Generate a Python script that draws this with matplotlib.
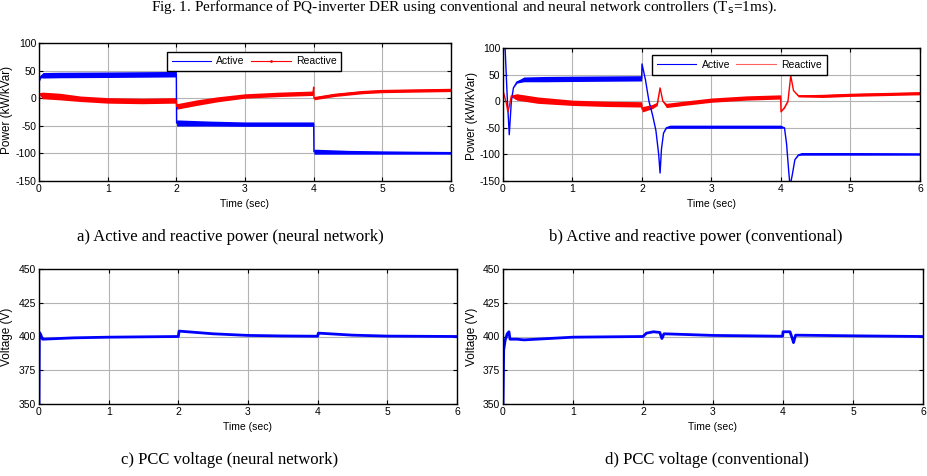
# PQ-inverter DER: active/reactive power and PCC voltage, neural network vs conventional
import numpy as np
import matplotlib
matplotlib.use("Agg")
import matplotlib.pyplot as plt

W, H = 928, 476

# ---- a) power, neural network controller ----
a_act_t = [0, 0.004, 0.01, 0.03, 0.06, 0.3, 1.0, 1.995, 2.0, 2.004, 2.05, 2.5, 3.0, 3.995, 4.0, 4.004, 4.05, 4.5, 5.0, 6.0]
a_act_c = [100, 30, 35, 40, 41.5, 42, 42.5, 43.5, 43.5, -45, -45, -46, -47, -47, -47, -97, -97, -98, -98.5, -99]
a_act_r = [0, 0, 2, 3, 5, 5, 5, 5, 5, 5.5, 5.5, 4.5, 4, 4, 4, 4.5, 4.5, 3.5, 3, 2.5]

a_rea_t = [0, 0.004, 0.01, 0.05, 0.3, 0.6, 1.0, 1.5, 1.995, 2.0, 2.004, 2.3, 2.6, 3.0, 3.5, 3.99, 4.0, 4.004, 4.3, 4.7, 5.0, 5.5, 6.0]
a_rea_c = [-30, -10, 8, 5, 3, -1, -4, -5, -4, -4, -15, -8, -2, 4, 7, 9, 20, 0, 6, 11, 13, 14, 15]
a_rea_r = [0, 0, 2, 6, 6, 5, 5, 5, 5, 5, 5, 5, 4.5, 4, 4, 4, 0, 3, 3, 3, 3, 3, 3]

# ---- b) power, conventional controller ----
b_act_t = [0, 0.03, 0.06, 0.09, 0.12, 0.15, 0.2, 0.3, 0.6, 1.0, 1.995,
           2.0, 2.05, 2.1, 2.15, 2.2, 2.24, 2.26, 2.28, 2.31, 2.35, 2.4, 3.0, 4.0,
           4.05, 4.08, 4.11, 4.13, 4.16, 4.2, 4.25, 4.3, 5.0, 6.0]
b_act_c = [115, 100, 10, -63, 0, 25, 36, 41, 41.5, 42, 43,
           70, 40, 0, -25, -55, -100, -135, -90, -60, -50, -48, -48, -48,
           -50, -80, -130, -160, -140, -110, -101, -99, -99, -99.5]
b_act_r = [0, 0, 0, 0, 0, 0, 2, 4.5, 5, 5, 5,
           0, 0, 0, 0, 0, 0, 0, 0, 0, 1, 3, 3, 3,
           0, 0, 0, 0, 0, 0, 1, 2.5, 2.5, 2]

b_rea_t = [0, 0.02, 0.05, 0.07, 0.09, 0.12, 0.2, 0.5, 1.0, 1.5, 1.995,
           2.0, 2.01, 2.15, 2.22, 2.26, 2.3, 2.35, 2.6, 3.0, 3.5, 3.995,
           4.0, 4.05, 4.1, 4.14, 4.18, 4.25, 4.6, 5.0, 6.0]
b_rea_c = [20, 10, -5, -20, -10, 10, 8, 2, -3, -5, -6,
           -15, -15, -10, -5, 25, 0, -8, -4, 2, 6, 8,
           -20, -12, 0, 48, 20, 10, 10, 12, 15]
b_rea_r = [0, 0, 0, 0, 0, 2, 6, 6, 5, 5, 5,
           5, 5, 4, 3, 0, 1, 4, 4, 4, 4, 4,
           0, 1, 1, 0, 0, 2, 3, 3, 3]

# ---- c) PCC voltage, neural network ----
c_t = [0, 0.005, 0.02, 0.05, 0.5, 1.0, 1.995, 2.0, 2.01, 2.5, 3.0, 3.5, 3.995, 4.0, 4.01, 4.5, 5.0, 6.0]
c_v = [350, 403, 402, 398, 399, 399.5, 400, 400, 404, 402, 400.8, 400.4, 400.2, 400.2, 402.5, 401, 400.3, 400]

# ---- d) PCC voltage, conventional ----
d_t = [0, 0.01, 0.03, 0.06, 0.085, 0.1, 0.2, 0.3, 1.0, 2.0, 2.05, 2.15, 2.24, 2.27, 2.3, 2.6, 3.0, 3.995,
       4.0, 4.1, 4.13, 4.15, 4.18, 5.0, 6.0]
d_v = [350, 390, 397, 402, 403.5, 398, 398, 397.5, 399.5, 400, 402.5, 403.5, 403, 398.5, 402, 401.5, 400.8, 400.2,
       403.5, 403.5, 399, 395.5, 401, 400.5, 400]

captions = ["a) Active and reactive power (neural network)",
            "b) Active and reactive power (conventional)",
            "c) PCC voltage (neural network)",
            "d) PCC voltage (conventional)"]

BLUE = "#0000ff"
RED = "#ff0000"

plt.rcParams["font.family"] = ["Liberation Sans", "DejaVu Sans"]
plt.rcParams["axes.unicode_minus"] = False
fig = plt.figure(figsize=(W / 100, H / 100), dpi=100)


def px_axes(x0, y0, x1, y1):
    return fig.add_axes([x0 / W, 1 - y1 / H, (x1 - x0) / W, (y1 - y0) / H])


def style(ax, ylim, yticks):
    ax.set_xlim(0, 6)
    ax.set_ylim(*ylim)
    ax.set_xticks(range(7))
    ax.set_yticks(yticks)
    ax.grid(True, color="#b4b4b4", linewidth=0.8)
    ax.set_axisbelow(True)
    ax.tick_params(direction="in", length=3, width=0.8, labelsize=7.5, pad=2,
                   top=True, right=True)
    for s in ax.spines.values():
        s.set_linewidth(1.0)
    ax.set_xlabel("Time (sec)", fontsize=7.5, labelpad=4)


def band(ax, t, c, r, color, lw=1.0):
    t = np.array(t)
    c = np.array(c, dtype=float)
    r = np.array(r, dtype=float)
    ax.fill_between(t, c - r, c + r, color=color, linewidth=0)
    ax.plot(t, c, color=color, lw=lw)


pw_ticks = [-150, -100, -50, 0, 50, 100]
v_ticks = [350, 375, 400, 425, 450]

# a
ax = px_axes(39, 43, 451, 181)
band(ax, a_act_t, a_act_c, a_act_r, BLUE)
band(ax, a_rea_t, a_rea_c, a_rea_r, RED)
style(ax, (-150, 100), pw_ticks)
h1, = ax.plot([], [], color=BLUE, lw=0.8, label="Active")
h2, = ax.plot([], [], color=RED, lw=0.8, marker=".", markersize=2, label="Reactive")
leg = ax.legend(handles=[h1, h2], ncol=2, loc="upper left", bbox_to_anchor=(0.298, 0.975),
                fontsize=7.5, fancybox=False, framealpha=1, edgecolor="black",
                borderpad=0.45, handlelength=3.8, columnspacing=0.6, handletextpad=0.5)
leg.get_frame().set_linewidth(1.0)

# b
ax = px_axes(503, 48, 920, 181)
band(ax, b_act_t, b_act_c, b_act_r, BLUE)
band(ax, b_rea_t, b_rea_c, b_rea_r, RED)
style(ax, (-150, 100), pw_ticks)
h1, = ax.plot([], [], color=BLUE, lw=0.8, label="Active")
h2, = ax.plot([], [], color="#ff6060", lw=0.8, label="Reactive")
leg = ax.legend(handles=[h1, h2], ncol=2, loc="upper left", bbox_to_anchor=(0.345, 0.985),
                fontsize=7.5, fancybox=False, framealpha=1, edgecolor="black",
                borderpad=0.45, handlelength=3.8, columnspacing=0.6, handletextpad=0.5)
leg.get_frame().set_linewidth(1.0)

# c
ax = px_axes(39, 269, 457, 404)
ax.plot(c_t, c_v, color=BLUE, lw=2)
style(ax, (350, 450), v_ticks)

# d
ax = px_axes(503, 269, 923, 404)
ax.plot(d_t, d_v, color=BLUE, lw=2)
style(ax, (350, 450), v_ticks)

# y labels, set against the left edge of each panel column
ylabels = [("Power (kW/kVar)", 1, 110), ("Power (kW/kVar)", 466, 116),
           ("Voltage (V)", 1, 337), ("Voltage (V)", 466, 337)]
for txt, x, y in ylabels:
    fig.text(x / W, 1 - y / H, txt, rotation=90, ha="left", va="center", fontsize=8.5)

# captions
cap_pos = [(230, 237), (696, 237), (230, 460), (707, 460)]
for txt, (x, y) in zip(captions, cap_pos):
    fig.text(x / W, 1 - y / H, txt, ha="center", va="center", fontsize=12,
             family=["Liberation Serif", "DejaVu Serif"])

# figure title at the top edge
fig.text(464 / W, 1 - 11 / H,
         r"Fig. 1. Performance of PQ-inverter DER using conventional and neural network controllers (T$_{\rm s}$=1ms).",
         ha="center", va="baseline", fontsize=11, family=["Liberation Serif", "DejaVu Serif"])

fig.savefig("out.png", dpi=100)
